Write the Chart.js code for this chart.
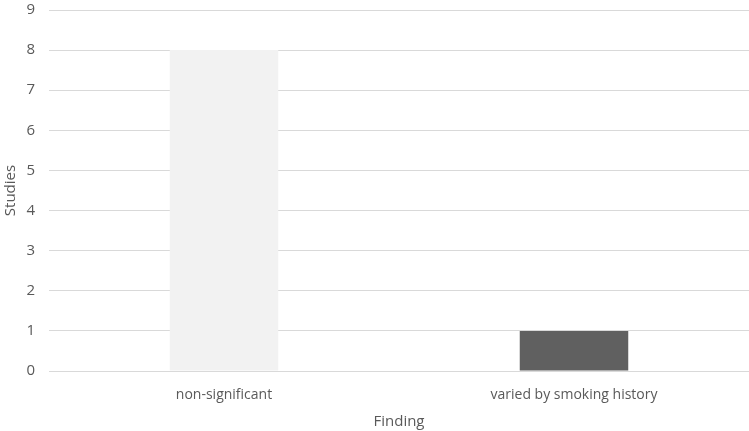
<!DOCTYPE html>
<html>
<head>
<meta charset="utf-8">
<script src="https://cdn.jsdelivr.net/npm/chart.js@4"></script>
<style>
  html, body { margin: 0; padding: 0; background: #fff; }
  #wrap { width: 749px; height: 431px; }
</style>
</head>
<body>
<div id="wrap"><canvas id="findingChart" width="749" height="431"></canvas></div>
<script>
const findings = ['non-significant', 'varied by smoking history'];
const studies = [8, 1];
const barColors = ['#f2f2f2', '#606060'];
const yTicks = [0, 1, 2, 3, 4, 5, 6, 7, 8, 9];

const ctx = document.getElementById('findingChart').getContext('2d');
const textGrey = '#595959';
const family = "'Open Sans', 'Noto Sans', sans-serif";

new Chart(ctx, {
    type: 'bar',
    data: {
        labels: findings,
        datasets: [{
            label: 'Studies',
            data: studies,
            backgroundColor: barColors,
            borderWidth: 0,
            barPercentage: 0.31,
            categoryPercentage: 1
        }]
    },
    options: {
        responsive: false,
        animation: false,
        layout: { padding: { top: 10, right: 0, left: 0, bottom: 0 } },
        plugins: {
            legend: { display: false },
            tooltip: { enabled: false }
        },
        scales: {
            x: {
                grid: { display: false },
                border: { display: false },
                ticks: { color: textGrey, font: { family: family, size: 14 }, padding: 8 },
                title: { display: true, text: 'Finding', color: textGrey, font: { family: family, size: 15 }, padding: { top: 2, bottom: 0 } },
                afterFit: function(scale) {
                    scale.height = 60;
                    scale.paddingLeft = 0;
                    scale.paddingRight = 0;
                }
            },
            y: {
                min: 0,
                max: 9,
                afterBuildTicks: function(scale) {
                    scale.ticks = yTicks.map(v => ({ value: v }));
                },
                grid: { color: '#d9d9d9', lineWidth: 1, drawTicks: false },
                border: { display: false },
                ticks: { color: textGrey, font: { family: family, size: 15 }, padding: 14 },
                title: { display: true, text: 'Studies', color: textGrey, font: { family: family, size: 15 }, padding: { top: 2, bottom: 2 } },
                afterFit: function(scale) {
                    scale.width = 49;
                    scale.paddingTop = 0;
                    scale.paddingBottom = 0;
                }
            }
        }
    }
});
</script>
</body>
</html>
